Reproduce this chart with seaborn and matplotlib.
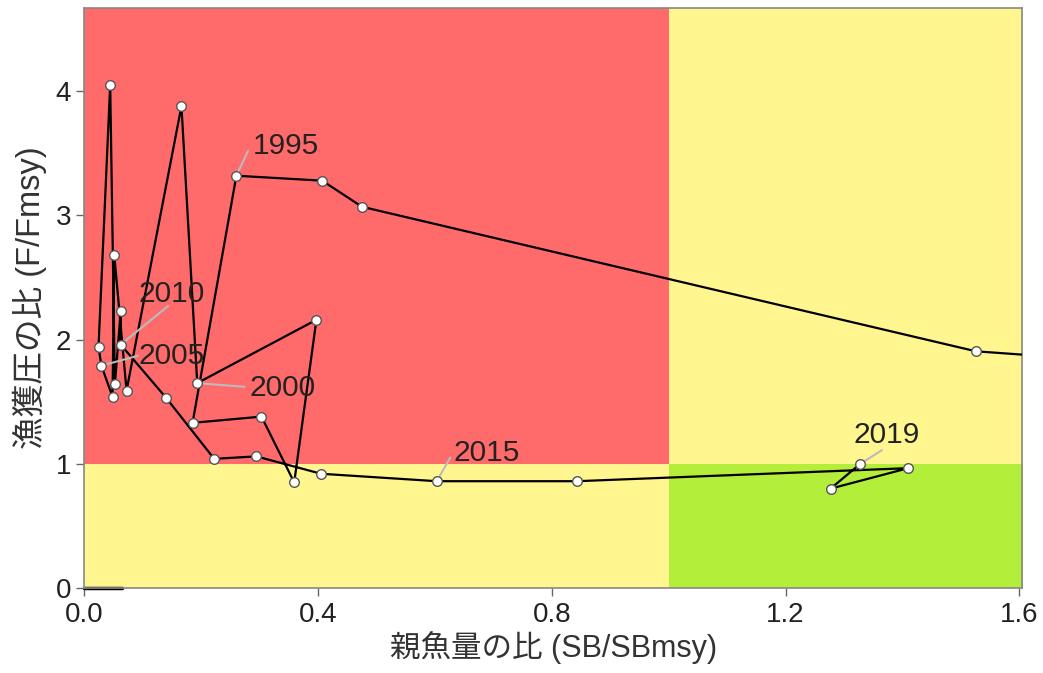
import matplotlib
matplotlib.use('Agg')
import matplotlib.pyplot as plt
import seaborn as sns
import pandas as pd

# 神戸プロット用データ (SB/SBmsy, F/Fmsy)
years = list(range(1991, 2020))
sb_ratio = [1.90, 1.526, 0.475, 0.407, 0.260, 0.185, 0.303, 0.359, 0.397, 0.193,
            0.166, 0.072, 0.051, 0.048, 0.029, 0.024, 0.044, 0.052, 0.062, 0.062,
            0.140, 0.222, 0.294, 0.405, 0.603, 0.843, 1.410, 1.277, 1.328]
f_ratio = [1.78, 1.906, 3.07, 3.28, 3.32, 1.33, 1.38, 0.85, 2.16, 1.65,
           3.88, 1.59, 2.68, 1.54, 1.79, 1.94, 4.05, 1.64, 2.23, 1.96,
           1.53, 1.04, 1.06, 0.92, 0.86, 0.86, 0.965, 0.80, 1.00]

label_years = [1995, 2000, 2005, 2010, 2015, 2019]
label_pos = {1995: (0.288, 3.56), 2000: (0.282, 1.61), 2005: (0.093, 1.87),
             2010: (0.093, 2.37), 2015: (0.631, 1.09), 2019: (1.316, 1.23)}
leader_end = {1995: (0.280, 3.52), 2000: (0.274, 1.62), 2005: (0.091, 1.87),
              2010: (0.143, 2.27), 2015: (0.626, 1.05), 2019: (1.365, 1.11)}

df = pd.DataFrame({'year': years, 'sb': sb_ratio, 'f': f_ratio})

xmax = 1.605
ymax = 4.67

sns.set_style("ticks")
plt.rcParams['font.family'] = ['Liberation Sans', 'Noto Sans CJK JP', 'DejaVu Sans']

fig = plt.figure(figsize=(10.43, 6.73), dpi=100)
ax = fig.add_axes([0.081, 0.1263, 0.899, 0.8617])

# 背景の色分け
ax.fill_between([0, 1], 1, ymax, color='#FF6A6A', lw=0, zorder=0)
ax.fill_between([1, xmax + 1], 1, ymax, color='#FFF68F', lw=0, zorder=0)
ax.fill_between([0, 1], 0, 1, color='#FFF68F', lw=0, zorder=0)
ax.fill_between([1, xmax + 1], 0, 1, color='#B3EE3A', lw=0, zorder=0)

ax.plot([0, 0.064], [0, 0], color='black', lw=2.5, zorder=2, clip_on=False)

sns.lineplot(data=df, x='sb', y='f', sort=False, color='black', lw=1.6,
             estimator=None, ax=ax, zorder=3)
sns.scatterplot(data=df, x='sb', y='f', color='white', edgecolor='#555555',
                s=48, linewidth=1.0, ax=ax, zorder=4)

for y in label_years:
    i = years.index(y)
    ex, ey = leader_end[y]
    ax.plot([sb_ratio[i], ex], [f_ratio[i], ey], color='#BBBBBB', lw=1.5, zorder=3.5)
    tx, ty = label_pos[y]
    ax.text(tx, ty, str(y), fontsize=21.5, color='#222222', ha='left', va='center', zorder=5)

ax.set_xlim(0, xmax)
ax.set_ylim(0, ymax)
ax.set_xticks([0.0, 0.4, 0.8, 1.2, 1.6])
ax.set_xticklabels(['0.0', '0.4', '0.8', '1.2', '1.6'])
ax.set_yticks([0, 1, 2, 3, 4])
ax.tick_params(labelsize=20, color='#666666', length=6, width=1, labelcolor='#222222')
ax.tick_params(axis='x', pad=4)
for sp in ax.spines.values():
    sp.set_color('#888888')
    sp.set_linewidth(1.2)

ax.set_xlabel('親魚量の比 (SB/SBmsy)', fontsize=22, color='#333333', labelpad=2)
ax.set_ylabel('漁獲圧の比 (F/Fmsy)', fontsize=23.5, color='#333333', labelpad=6)

fig.savefig('out.png', dpi=100)
plt.close(fig)
